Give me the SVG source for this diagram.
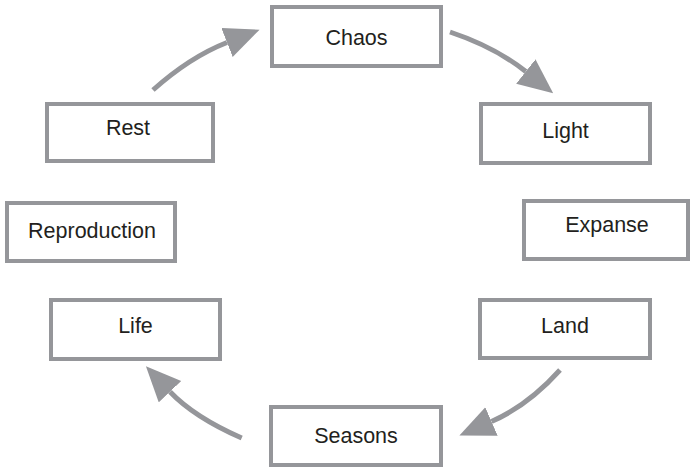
<svg xmlns="http://www.w3.org/2000/svg" width="690" height="468" viewBox="0 0 690 468">
<style>
.box{fill:#ffffff;stroke:#95969a;stroke-width:4}
.lbl{font-family:"Liberation Sans",Arial,Helvetica,sans-serif;font-size:21.5px;fill:#231f20;text-anchor:middle}
.arr{fill:none;stroke:#95969a;stroke-width:5;marker-end:url(#head)}
</style>
<defs>
<marker id="head" markerUnits="userSpaceOnUse" markerWidth="36" markerHeight="32" refX="0" refY="15.5" orient="auto">
<path d="M0,0 L35,15.5 L0,31 Z" fill="#95969a"/>
</marker>
</defs>
<rect width="690" height="468" fill="#ffffff"/>
<g id="connectors">
<path class="arr" d="M153,90 Q190,57 227,42.5"/>
<path class="arr" d="M450,32 Q495,47 525.8,71.5"/>
<path class="arr" d="M560,370 Q528,405.6 491.5,421.5"/>
<path class="arr" d="M241.7,438 Q194,417 170,391.7"/>
</g>
<g id="chaos"><rect class="box" x="272" y="7" width="169" height="59"/><text class="lbl" x="356.5" y="45">Chaos</text></g>
<g id="light"><rect class="box" x="481" y="104" width="169" height="59"/><text class="lbl" x="565.5" y="138">Light</text></g>
<g id="expanse"><rect class="box" x="524" y="201" width="164" height="58"/><text class="lbl" x="607" y="231.5">Expanse</text></g>
<g id="land"><rect class="box" x="480" y="300" width="170" height="58"/><text class="lbl" x="565" y="333">Land</text></g>
<g id="seasons"><rect class="box" x="271" y="407" width="170" height="58"/><text class="lbl" x="356" y="443">Seasons</text></g>
<g id="life"><rect class="box" x="51" y="300" width="169" height="59"/><text class="lbl" x="135.5" y="333">Life</text></g>
<g id="reproduction"><rect class="box" x="7" y="203" width="168" height="58"/><text class="lbl" x="92" y="238">Reproduction</text></g>
<g id="rest"><rect class="box" x="47" y="104" width="166" height="57"/><text class="lbl" x="128" y="135">Rest</text></g>
</svg>
